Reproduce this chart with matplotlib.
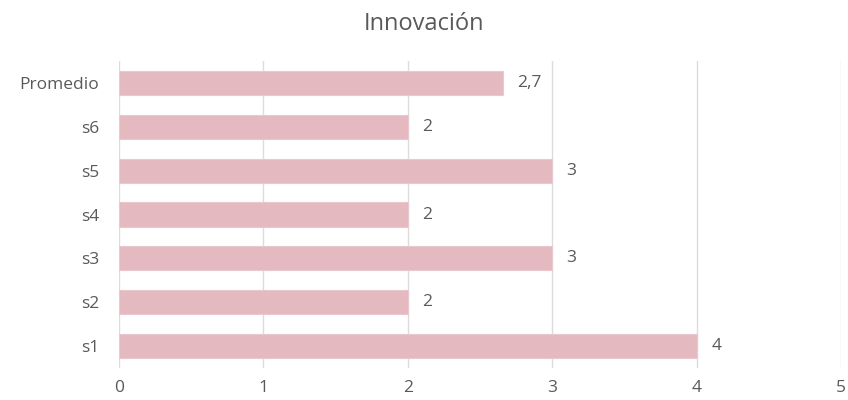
import matplotlib.pyplot as plt

categories = ['s1', 's2', 's3', 's4', 's5', 's6', 'Promedio']
values = [4, 2, 3, 2, 3, 2, 2.66]
labels = ['4', '2', '3', '2', '3', '2', '2,7']
xticks = [0, 1, 2, 3, 4, 5]

plt.rcParams['font.family'] = ['Open Sans', 'DejaVu Sans']
text_color = '#595959'

fig = plt.figure(figsize=(8.48, 4), dpi=100)
ax = fig.add_axes([0.140, 0.08, 0.852, 0.7675])

ax.barh(categories, values, height=0.55, color='#E5B9C0', edgecolor='#EAC8CD',
        linewidth=0.8, zorder=3)
for i, (v, lab) in enumerate(zip(values, labels)):
    ax.text(v + 0.1, i, lab, va='center', ha='left', fontsize=12.5, color=text_color)

ax.set_xlim(0, 5)
ax.set_ylim(-0.5, len(categories) - 0.5)
ax.set_xticks(xticks)
ax.grid(axis='x', color='#DCDCDC', linewidth=1, zorder=0)
for s in ax.spines.values():
    s.set_visible(False)
ax.tick_params(axis='both', length=0, labelsize=12.5, colors=text_color)
ax.tick_params(axis='x', pad=9)
ax.tick_params(axis='y', pad=14)

fig.suptitle('Innovación', y=0.97, fontsize=17, color=text_color)

fig.savefig('out.png', dpi=100)
